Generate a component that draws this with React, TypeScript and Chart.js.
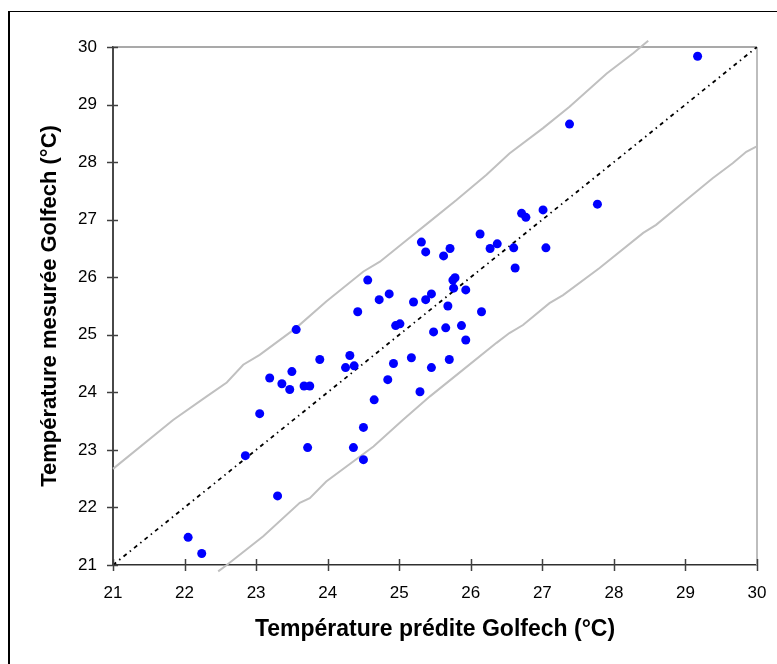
import React, { useEffect, useRef } from "react";
import { Chart, registerables } from "chart.js";

Chart.register(...registerables);

// Predicted temperature (x) and measured temperature (y), Golfech
const PRED_X = [
  29.17, 27.38, 27.77, 26.71, 26.77, 27.01, 26.6, 27.05, 26.62, 26.13, 25.31, 25.37, 25.71, 25.62, 26.27, 26.37,
  24.56, 25.78, 25.75, 25.76, 25.93, 24.86, 24.72, 25.45, 25.37, 25.2, 25.68, 24.42, 26.15, 23.56, 24.95, 25.01,
  25.65, 25.87, 25.48, 25.93, 23.89, 24.31, 24.25, 24.37, 25.17, 24.92, 25.7, 25.45, 23.19, 23.5, 23.36, 23.47,
  23.67, 23.75, 24.84, 25.29, 24.65, 23.05, 22.85, 23.72, 24.36, 24.5, 24.5, 23.3, 22.05, 22.24,
];
const MEAS_Y = [
  29.84, 28.66, 27.27, 27.11, 27.04, 27.17, 26.51, 26.51, 26.16, 26.75, 26.61, 26.44, 26.5, 26.37, 26.5, 26.58,
  25.95, 25.99, 25.95, 25.81, 25.78, 25.71, 25.61, 25.71, 25.61, 25.57, 25.5, 25.4, 25.4, 25.09, 25.16, 25.19,
  25.12, 25.16, 25.05, 24.91, 24.57, 24.64, 24.43, 24.46, 24.6, 24.5, 24.57, 24.43, 24.25, 24.36, 24.15, 24.05,
  24.11, 24.11, 24.22, 24.01, 23.87, 23.63, 22.9, 23.04, 23.04, 23.39, 22.83, 22.2, 21.48, 21.2,
];

// Identity line
const DIAG_X = [21, 30];
const DIAG_Y = [21, 30];

// Upper envelope (grey)
const UPPER_X = [21.0, 21.84, 22.31, 22.59, 22.82, 23.05, 23.56, 23.98, 24.5, 24.73, 25.05, 25.43, 25.8, 26.22, 26.54, 27.01, 27.38, 27.9, 28.27, 28.48];
const UPPER_Y = [22.67, 23.52, 23.93, 24.17, 24.48, 24.65, 25.12, 25.58, 26.1, 26.27, 26.59, 26.97, 27.34, 27.78, 28.15, 28.59, 28.96, 29.54, 29.89, 30.11];

// Lower envelope (grey)
const LOWER_X = [22.47, 22.59, 23.1, 23.61, 23.75, 23.98, 24.64, 25.05, 25.43, 25.89, 26.36, 26.54, 26.73, 27.1, 27.29, 27.8, 28.41, 28.59, 29.01, 29.38, 29.66, 29.85, 29.99];
const LOWER_Y = [20.89, 21.0, 21.5, 22.08, 22.16, 22.45, 23.06, 23.52, 23.93, 24.39, 24.86, 25.03, 25.17, 25.55, 25.69, 26.16, 26.77, 26.91, 27.34, 27.72, 27.98, 28.18, 28.27];

const X_MIN = 21;
const X_MAX = 30;
const Y_MIN = 21;
const Y_MAX = 30;

const X_TITLE = "Température prédite Golfech (°C)";
const Y_TITLE = "Température mesurée Golfech (°C)";

const FONT = '"Liberation Sans", Arial, Helvetica, sans-serif';

const zip = (xs: number[], ys: number[]) => xs.map((x, i) => ({ x, y: ys[i] }));

const framePlugin = {
  id: "frame",
  beforeDraw(chart: any) {
    const ctx = chart.ctx;
    ctx.save();
    ctx.fillStyle = "#000";
    ctx.fillRect(8, 11, 2, 700);
    ctx.fillRect(8, 11, 800, 1);
    ctx.restore();
  },
  beforeDatasetsDraw(chart: any) {
    const { ctx, chartArea: a } = chart;
    ctx.save();
    ctx.strokeStyle = "#8c8c8c";
    ctx.lineWidth = 1.5;
    ctx.beginPath();
    ctx.moveTo(a.left, a.top);
    ctx.lineTo(a.right, a.top);
    ctx.stroke();
    ctx.strokeStyle = "#bdbdbd";
    ctx.lineWidth = 2;
    ctx.beginPath();
    ctx.moveTo(a.right, a.top);
    ctx.lineTo(a.right, a.bottom);
    ctx.stroke();
    ctx.restore();
  },
  afterDraw(chart: any) {
    const { ctx, chartArea: a, scales } = chart;
    ctx.save();
    ctx.strokeStyle = "#404040";
    ctx.lineWidth = 1.5;
    scales.x.ticks.forEach((t: any) => {
      const px = Math.round(scales.x.getPixelForValue(t.value)) + 0.5;
      ctx.beginPath();
      ctx.moveTo(px, a.bottom - 6);
      ctx.lineTo(px, a.bottom + 6);
      ctx.stroke();
    });
    scales.y.ticks.forEach((t: any) => {
      const py = Math.round(scales.y.getPixelForValue(t.value)) + 0.5;
      ctx.beginPath();
      ctx.moveTo(a.left - 6, py);
      ctx.lineTo(a.left + 5, py);
      ctx.stroke();
    });
    ctx.restore();
  },
};

export default function App() {
  const ref = useRef<HTMLCanvasElement | null>(null);

  useEffect(() => {
    document.body.style.margin = "0";
    const canvas = ref.current;
    if (!canvas) return;
    const chart = new Chart(canvas, {
      type: "scatter",
      data: {
        datasets: [
          {
            label: "points",
            data: zip(PRED_X, MEAS_Y),
            backgroundColor: "#0000ff",
            borderWidth: 0,
            pointRadius: 4.5,
            showLine: false,
          },
          {
            label: "diag",
            data: zip(DIAG_X, DIAG_Y),
            showLine: true,
            borderColor: "#000",
            borderWidth: 1.8,
            borderDash: [4, 4, 1.5, 4],
            pointRadius: 0,
            fill: false,
          },
          {
            label: "upper",
            data: zip(UPPER_X, UPPER_Y),
            showLine: true,
            borderColor: "#c0c0c0",
            borderWidth: 2,
            pointRadius: 0,
            fill: false,
            clip: false,
          },
          {
            label: "lower",
            data: zip(LOWER_X, LOWER_Y),
            showLine: true,
            borderColor: "#c0c0c0",
            borderWidth: 2,
            pointRadius: 0,
            fill: false,
            clip: false,
          },
        ] as any,
      },
      options: {
        animation: false,
        responsive: false,
        layout: { padding: { left: 0, top: 47, right: 20, bottom: 0 } },
        plugins: { legend: { display: false }, tooltip: { enabled: false } },
        scales: {
          x: {
            type: "linear",
            min: X_MIN,
            max: X_MAX,
            afterFit: (s: any) => {
              s.height = 99;
            },
            ticks: {
              stepSize: 1,
              color: "#000",
              font: { family: FONT, size: 17 },
              padding: 10,
            },
            grid: { display: false },
            border: { display: true, color: "#303030", width: 1.5 },
            title: {
              display: true,
              text: X_TITLE,
              color: "#000",
              font: { family: FONT, size: 23, weight: "bold" },
              padding: { top: 0, bottom: 21 },
            },
          },
          y: {
            type: "linear",
            min: Y_MIN,
            max: Y_MAX,
            afterFit: (s: any) => {
              s.width = 113;
            },
            ticks: {
              stepSize: 1,
              color: "#000",
              font: { family: FONT, size: 17 },
              padding: 8,
            },
            grid: { display: false },
            border: { display: true, color: "#484848", width: 2 },
            title: {
              display: true,
              text: Y_TITLE,
              color: "#000",
              font: { family: FONT, size: 22, weight: "bold" },
              padding: { top: 37, bottom: 0 },
            },
          },
        },
      } as any,
      plugins: [framePlugin],
    });
    return () => chart.destroy();
  }, []);

  return (
    <div style={{ position: "relative", width: 777, height: 664, overflow: "hidden", background: "#fff" }}>
      <canvas ref={ref} width={777} height={664} style={{ display: "block" }} />
    </div>
  );
}
